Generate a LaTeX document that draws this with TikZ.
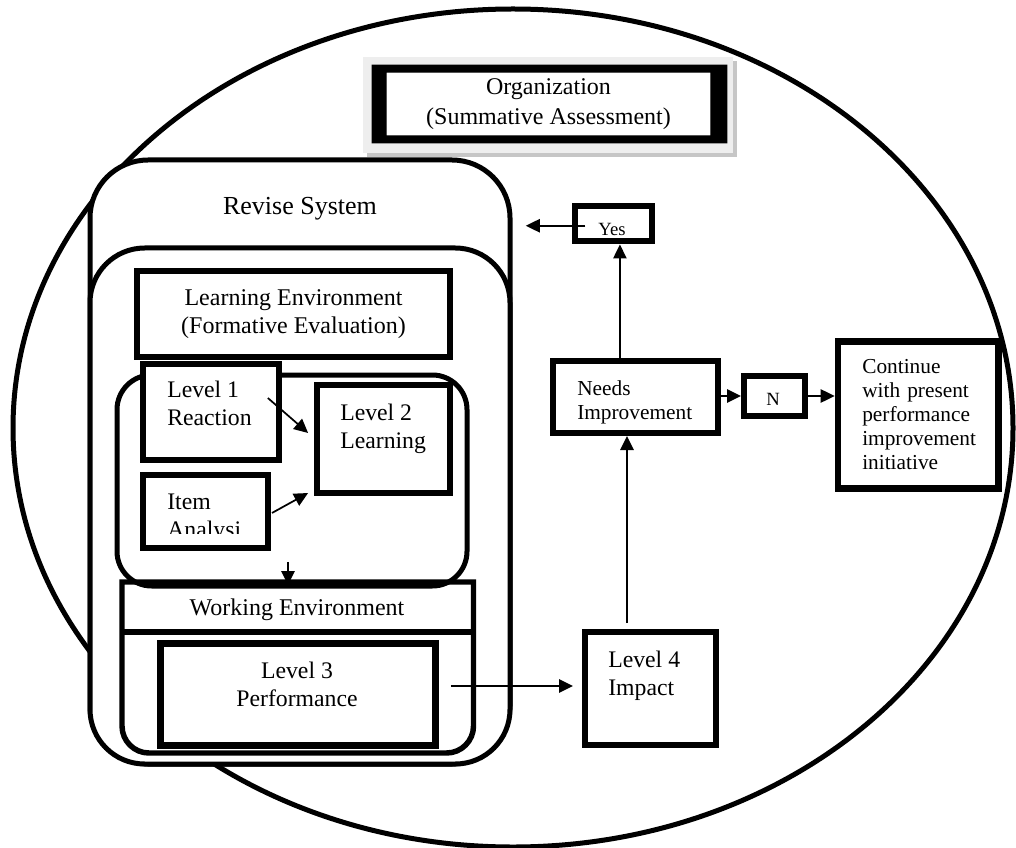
\documentclass[tikz,border=0pt]{standalone}
\usepackage{fontspec}
\setmainfont{Liberation Serif}
\usetikzlibrary{arrows.meta}

\begin{document}
\begin{tikzpicture}[x=0.75pt, y=-0.75pt,
  outline/.style={draw, line width=#1, fill=white, inner sep=0pt},
  outline/.default=4.5pt,
  lbl/.style={inner sep=0pt, font=\fontsize{17.8}{21}\selectfont, align=left},
  small/.style={inner sep=0pt, font=\fontsize{14}{16}\selectfont},
  conn/.style={line width=1.3pt, -{Triangle[length=10.5pt,width=10pt]}}]

\useasboundingbox (0,0) rectangle (1016,848);

% organisation: the large ellipse round everything
\draw[line width=3.75pt] (513,428) ellipse [x radius=375pt, y radius=314.25pt];

% title panel with its drop shadow and heavy frame
\fill[gray!45] (367,61) rectangle (737,157);
\fill[gray!13] (363,57) rectangle (733,153);
\node[fill=white, inner sep=0pt, minimum width=242.25pt, minimum height=46.5pt,
      align=center, font=\fontsize{18}{23}\selectfont] (org) at (548.5,104)
      {Organization\\(Summative Assessment)};
\fill[black, even odd rule]
  ([shift={(-15,-8)}]org.north west) rectangle ([shift={(17,8)}]org.south east)
  (org.north west) rectangle (org.south east);

% revise system and the learning zone inside it
\node[outline=3.75pt, rounded corners=43.5pt, minimum width=315pt, minimum height=453pt] (revise) at (300,462) {};
\node[lbl, anchor=base, font=\fontsize{19.5}{23}\selectfont] (revisetitle) at (300,215) {Revise System};
\node[outline=3.75pt, rounded corners=41pt, minimum width=315pt, minimum height=387pt] (learnzone) at (300,506) {};

\node[outline, minimum width=234.75pt, minimum height=64.5pt, align=center,
      font=\fontsize{18}{21}\selectfont] (learnenv) at (293.5,314)
      {Learning Environment\\(Formative Evaluation)};

% container of levels 1 and 2
\node[draw, line width=3.75pt, rounded corners=26pt, inner sep=0pt,
      minimum width=262.5pt, minimum height=158.25pt] (levels) at (292,480.5) {};

\node[outline=4.875pt, minimum width=102pt, minimum height=72pt] (lev1) at (211,412) {};
\node[lbl, anchor=west] (lev1text) at (167,403) {Level 1\\Reaction};

\node[outline, minimum width=100pt, minimum height=81pt] (lev2) at (383.25,439) {};
\node[lbl, anchor=west] (lev2text) at (340,428.5) {Level 2\\Learning};

\node[outline, minimum width=93.75pt, minimum height=54.75pt] (item) at (205.5,511.5) {};
\begin{scope}
  \clip (147,478) rectangle (265,533);
  \node[lbl, anchor=west] (itemtext) at (167,518.5) {Item\\Analysi};
\end{scope}

% working environment: square top, rounded bottom, with a header strip
\draw[line width=4.1pt] (122,582) -- (122,726)
  arc[start angle=180, end angle=270, radius=20.25pt] -- (446.5,753)
  arc[start angle=270, end angle=360, radius=20.25pt] -- (473.5,582) -- cycle;
\draw[line width=4.1pt] (122,632) -- (473.5,632);
\node[lbl, anchor=base, font=\fontsize{18}{21}\selectfont] (workenv) at (297,615) {Working Environment};

\node[outline=5.25pt, minimum width=206.25pt, minimum height=76.5pt] (lev3) at (297.5,694) {};
\node[lbl, align=center] (lev3text) at (297,684) {Level 3\\Performance};

% right-hand decision path
\node[outline, minimum width=98.6pt, minimum height=84.75pt] (lev4) at (650.75,688.5) {};
\node[lbl, anchor=west] (lev4text) at (608,675.5) {Level 4\\Impact};

\node[outline, minimum width=123.75pt, minimum height=54pt] (needs) at (635.5,397) {};
\node[lbl, anchor=west, font=\fontsize{16}{18}\selectfont] (needstext) at (577,402) {Needs\\Improvement};

\node[outline, minimum width=57.4pt, minimum height=26.6pt] (yes) at (613.25,223.75) {};
\begin{scope}
  \clip (578,209) rectangle (648,236.5);
  \node[small, anchor=base] (yestext) at (612,236) {Yes};
\end{scope}

\node[outline, minimum width=45.75pt, minimum height=30pt] (nbox) at (774.5,396) {};
\node[small, anchor=base] (ntext) at (773,405) {N};

\node[outline=5pt, minimum width=120.4pt, minimum height=110.25pt] (cont) at (918.25,415) {};
\node[lbl, anchor=west, font=\fontsize{16}{18}\selectfont, text width=84pt] (conttext) at (862,415)
  {Continue\\\makebox[84pt][s]{with present}\\performance\\improvement\\initiative};

% connectors
\draw[conn] ([shift={(-10.8pt,10.5pt)}]lev1.east) -- ([shift={(-4.1pt,4.5pt)}]lev2.west);
\draw[conn] ([shift={(0.75pt,-1.1pt)}]item.east) -- ([shift={(-4.1pt,2.25pt)}]lev2.south west);
\draw[conn] ([shift={(-3pt,19.9pt)}]levels.south) -- ([shift={(-3pt,2.6pt)}]levels.south);
\coordinate (l3out) at ([shift={(9.3pt,6pt)}]lev3.east);
\draw[conn] (l3out) -- ([xshift=-6.75pt]l3out -| lev4.west);
\draw[conn] ([shift={(-17.8pt,4.5pt)}]lev4.north) -- ([xshift=-17.8pt]lev4.north |- needs.south);
\draw[conn] ([xshift=5pt]yes.south |- needs.north) -- ([xshift=5pt]yes.south);
\draw[conn] ([shift={(10pt,-1.5pt)}]yes.west) -- ([shift={(10pt,-1.5pt)}]yes.west -| revise.east);
\draw[conn] (nbox.west -| needs.east) -- (nbox.west);
\draw[conn] (nbox.east) -- (nbox.east -| cont.west);

\end{tikzpicture}
\end{document}
